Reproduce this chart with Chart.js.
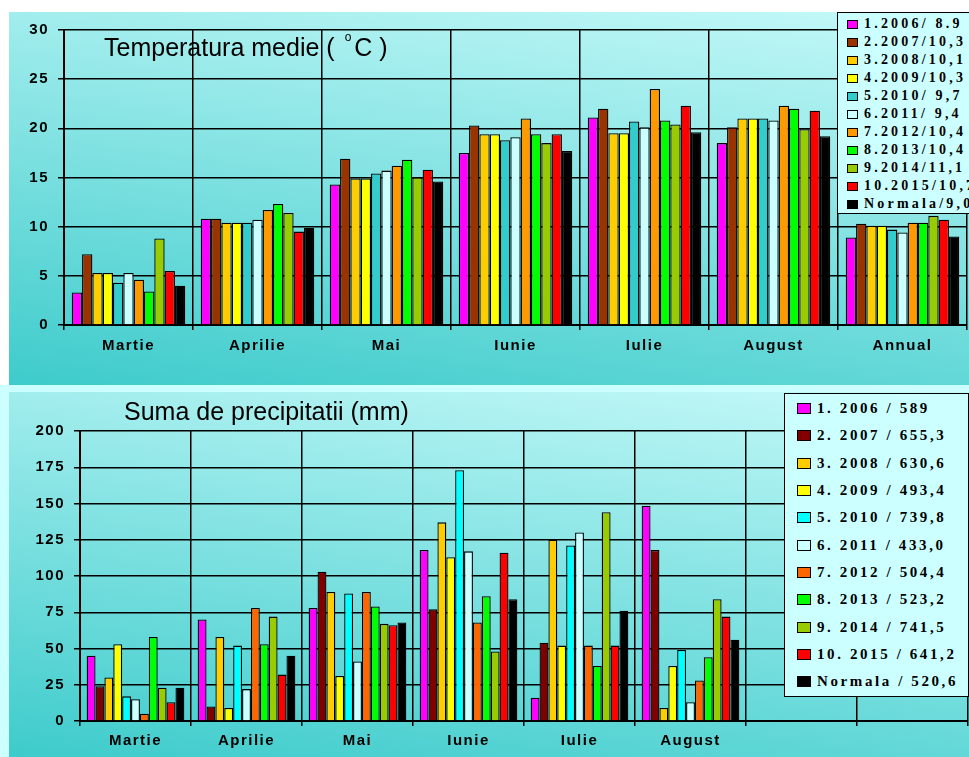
<!DOCTYPE html>
<html>
<head>
<meta charset="utf-8">
<script src="https://cdn.jsdelivr.net/npm/chart.js@4.4.0/dist/chart.umd.min.js"></script>
<style>
    html, body {
        margin: 0;
        padding: 0;
        width: 969px;
        height: 757px;
        overflow: hidden;
        background: linear-gradient(#ffffff 0 385px, #ccffff 385px);
        font-family: Arial, "Liberation Sans", sans-serif;
    }
    .panel {
        position: absolute;
        left: 9px;
        width: 960px;
        background: linear-gradient(188deg, #c6f9f9, #3ecbcb);
    }
    #temp-panel { top: 12px; height: 373px; }
    #rain-panel { top: 392px; height: 365px; }
    .panel canvas { position: absolute; left: 0; top: 0; }
    .title {
        position: absolute;
        font-size: 25px;
        line-height: 25px;
        color: #000;
        white-space: pre;
    }
    .title sup {
        font-size: 12px;
        position: relative;
        top: -6px;
        margin: 0 3px 0 10px;
    }
    .legend {
        position: absolute;
        background: #ccffff;
        border: 1.5px solid #000;
        font-family: "Liberation Serif", "Times New Roman", serif;
        font-weight: bold;
        color: #000;
        box-sizing: border-box;
    }
    .legend .row { display: flex; align-items: center; white-space: pre; }
    .legend .sw { border: 1px solid #000; box-sizing: border-box; flex: none; }
    #temp-legend { left: 837px; top: 12px; width: 150px; height: 202px; padding-top: 2px; font-size: 14px; letter-spacing: 3.2px; }
    #temp-legend .row { height: 18px; }
    #temp-legend .sw { width: 11px; height: 9px; margin: 0 6px 0 9px; }
    #rain-legend { left: 784px; top: 393px; width: 185px; height: 304px; padding-top: 1px; font-size: 15px; letter-spacing: 2.6px; }
    #rain-legend .row { height: 27.3px; }
    #rain-legend .sw { width: 14px; height: 11px; margin: 0 6px 0 12px; }
</style>
</head>
<body>
<div class="panel" id="temp-panel"><canvas id="temp-chart" width="960" height="373"></canvas></div>
<div class="panel" id="rain-panel"><canvas id="rain-chart" width="960" height="365"></canvas></div>
<div class="title" style="left:104px; top:31px;">Temperatura medie (<sup>o</sup>C )</div>
<div class="title" style="left:124px; top:399px;">Suma de precipitatii (mm)</div>
<div class="legend" id="temp-legend"></div>
<div class="legend" id="rain-legend"></div>

<script>
// Temperatura medie (°C) - luni + media anuala
const tempMonths = ['Martie', 'Aprilie', 'Mai', 'Iunie', 'Iulie', 'August', 'Annual'];
const t2006 = [3.3, 10.8, 14.3, 17.5, 21.1, 18.5, 8.9];
const t2007 = [7.2, 10.8, 16.9, 20.3, 22.0, 20.1, 10.3];
const t2008 = [5.3, 10.4, 14.9, 19.4, 19.5, 21.0, 10.1];
const t2009 = [5.3, 10.4, 14.9, 19.4, 19.5, 21.0, 10.1];
const t2010 = [4.3, 10.4, 15.4, 18.8, 20.7, 21.0, 9.7];
const t2011 = [5.3, 10.7, 15.7, 19.1, 20.1, 20.8, 9.4];
const t2012 = [4.6, 11.7, 16.2, 21.0, 24.0, 22.3, 10.4];
const t2013 = [3.4, 12.3, 16.8, 19.4, 20.8, 22.0, 10.4];
const t2014 = [8.8, 11.4, 15.0, 18.5, 20.4, 19.9, 11.1];
const t2015 = [5.5, 9.5, 15.8, 19.4, 22.3, 21.8, 10.7];
const tNormala = [4.0, 9.9, 14.6, 17.7, 19.6, 19.2, 9.0];
const tempLegend = ['1.2006/ 8.9', '2.2007/10,3', '3.2008/10,1', '4.2009/10,3', '5.2010/ 9,7', '6.2011/ 9,4',
    '7.2012/10,4', '8.2013/10,4', '9.2014/11,1', '10.2015/10,7', 'Normala/9,0'];
const tempColors = ['#ff00ff', '#993300', '#ffcc00', '#ffff00', '#33cccc', '#ccffff',
    '#ff9900', '#00ff00', '#99cc00', '#ff0000', '#000000'];
const tempTicks = [0, 5, 10, 15, 20, 25, 30];

// Suma de precipitatii (mm)
const rainMonths = ['Martie', 'Aprilie', 'Mai', 'Iunie', 'Iulie', 'August', '', ''];
const p2006 = [45, 70, 78, 118, 16, 148.5];
const p2007 = [24, 10, 103, 77, 54, 118];
const p2008 = [30, 58, 89, 137, 125, 9];
const p2009 = [53, 9, 31, 113, 52, 38];
const p2010 = [17, 52, 88, 173, 121, 49];
const p2011 = [15, 22, 41, 117, 130, 13];
const p2012 = [5, 78, 89, 68, 52, 28];
const p2013 = [58, 53, 79, 86, 38, 44];
const p2014 = [23, 72, 67, 48, 144, 84];
const p2015 = [13, 32, 66, 116, 52, 72];
const pNormala = [23, 45, 68, 84, 76, 56];
const rainLegend = ['1. 2006 / 589', '2. 2007 / 655,3', '3. 2008 / 630,6', '4. 2009 / 493,4', '5. 2010 / 739,8',
    '6. 2011 / 433,0', '7. 2012 / 504,4', '8. 2013 / 523,2', '9. 2014 / 741,5', '10. 2015 / 641,2', 'Normala / 520,6'];
const rainColors = ['#ff00ff', '#800000', '#ffcc00', '#ffff00', '#00ffff', '#ccffff',
    '#ff6600', '#00ff00', '#99cc00', '#ff0000', '#000000'];
const rainTicks = [0, 25, 50, 75, 100, 125, 150, 175, 200];

// canvas letter spacing for axis labels
const spacingPlugin = {
    id: 'spacing',
    beforeDraw(chart) {
        chart.ctx.letterSpacing = '1.5px';
    }
};

function buildDatasets(series, names, colors) {
    return series.map((data, i) => ({
        label: names[i],
        data: data,
        backgroundColor: colors[i],
        borderColor: '#000',
        borderWidth: 1.3,
        categoryPercentage: 0.88,
        barPercentage: 1.0
    }));
}

function makeChart(id, months, datasets, ticks, box) {
    const ctx = document.getElementById(id);
    return new Chart(ctx, {
        type: 'bar',
        data: { labels: months, datasets: datasets },
        plugins: [spacingPlugin],
        options: {
            responsive: false,
            animation: false,
            layout: { padding: { top: box.top, right: box.right, left: 0, bottom: 0 } },
            plugins: {
                legend: { display: false },
                tooltip: { enabled: false }
            },
            scales: {
                x: {
                    afterFit: s => { s.height = box.xHeight; },
                    grid: { color: '#000', lineWidth: 1.5, tickLength: 5, offset: true },
                    border: { color: '#000', width: 2 },
                    ticks: {
                        color: '#000',
                        font: { family: 'Arial', size: 15, weight: 'bold' },
                        padding: box.xPad,
                        maxRotation: 0,
                        autoSkip: false
                    }
                },
                y: {
                    min: ticks[0],
                    max: ticks[ticks.length - 1],
                    afterFit: s => { s.width = box.yWidth; },
                    afterBuildTicks: s => { s.ticks = ticks.map(v => ({ value: v })); },
                    grid: { color: '#000', lineWidth: 1.5, tickLength: 6 },
                    border: { color: '#000', width: 2 },
                    ticks: {
                        color: '#000',
                        font: { family: 'Arial', size: 15, weight: 'bold' },
                        padding: 9
                    }
                }
            }
        }
    });
}

function buildLegend(id, names, colors) {
    const el = document.getElementById(id);
    names.forEach((name, i) => {
        const row = document.createElement('div');
        row.className = 'row';
        const sw = document.createElement('span');
        sw.className = 'sw';
        sw.style.background = colors[i];
        const txt = document.createElement('span');
        txt.textContent = name;
        row.appendChild(sw);
        row.appendChild(txt);
        el.appendChild(row);
    });
}

const tempSeries = [t2006, t2007, t2008, t2009, t2010, t2011, t2012, t2013, t2014, t2015, tNormala];
const rainSeries = [p2006, p2007, p2008, p2009, p2010, p2011, p2012, p2013, p2014, p2015, pNormala];

makeChart('temp-chart', tempMonths, buildDatasets(tempSeries, tempLegend, tempColors), tempTicks,
    { top: 17, right: 2, yWidth: 55, xHeight: 60, xPad: 7 });
makeChart('rain-chart', rainMonths, buildDatasets(rainSeries, rainLegend, rainColors), rainTicks,
    { top: 39, right: 1, yWidth: 71, xHeight: 36, xPad: 6 });

buildLegend('temp-legend', tempLegend, tempColors);
buildLegend('rain-legend', rainLegend, rainColors);
</script>
</body>
</html>
